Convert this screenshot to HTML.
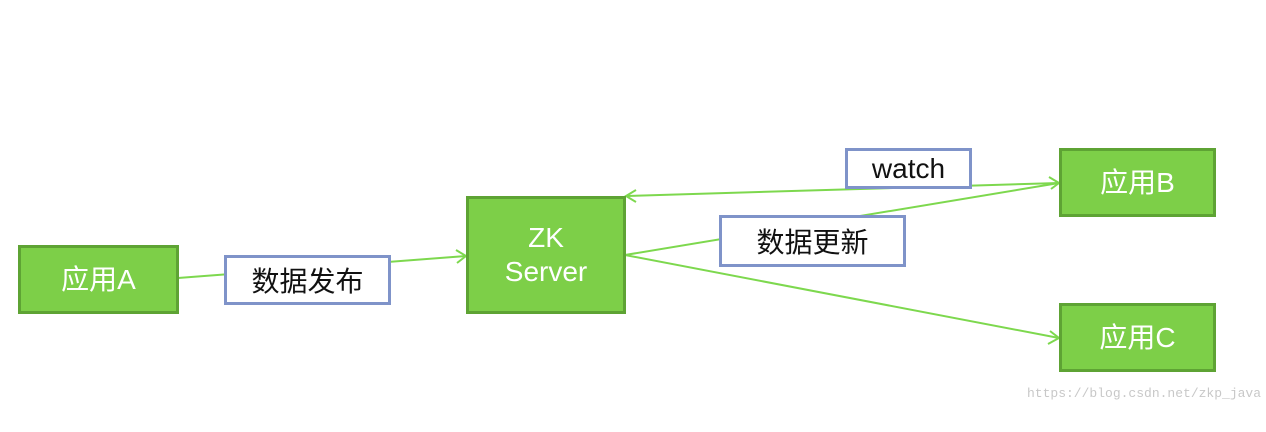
<!DOCTYPE html>
<html><head><meta charset="utf-8"><style>
body{margin:0;width:1266px;height:432px;background:#fff;position:relative;overflow:hidden;font-family:"Liberation Sans","Noto Sans CJK SC",sans-serif}
.g{position:absolute;background:#7dcf48;border:3px solid #5ea334;box-sizing:border-box;color:#fff;display:flex;align-items:center;justify-content:center;text-align:center;font-size:28px;line-height:34px}
.l{position:absolute;background:#fff;border:3px solid #7f93c9;box-sizing:border-box;color:#111;display:flex;align-items:center;justify-content:center;font-size:28px}
svg{position:absolute;left:0;top:0}
</style></head><body>
<svg width="1266" height="432"><g stroke="#7dd84e" stroke-width="2" fill="none">
<line x1="178" y1="278" x2="466" y2="256"/><polyline points="456,250 466,256 457,263"/>
<line x1="1059" y1="183" x2="626" y2="196"/><polyline points="636,190 626,196 636,202"/>
<line x1="625" y1="255" x2="1059" y2="183"/><polyline points="1049,177 1059,183 1051,189"/>
<line x1="625" y1="255" x2="1059" y2="338"/><polyline points="1050,331 1059,338 1048,344"/>
</g></svg>
<div class="g" style="left:18px;top:245px;width:161px;height:69px">应用A</div>
<div class="g" style="left:466px;top:196px;width:160px;height:118px">ZK<br>Server</div>
<div class="g" style="left:1059px;top:148px;width:157px;height:69px">应用B</div>
<div class="g" style="left:1059px;top:303px;width:157px;height:69px">应用C</div>
<div class="l" style="left:224px;top:255px;width:167px;height:50px">数据发布</div>
<div class="l" style="left:845px;top:148px;width:127px;height:41px">watch</div>
<div class="l" style="left:719px;top:215px;width:187px;height:52px">数据更新</div>
<div style="position:absolute;left:1027px;top:386px;font:13px 'Liberation Mono',monospace;color:#c8c8c8">https://blog.csdn.net/zkp_java</div>
</body></html>
